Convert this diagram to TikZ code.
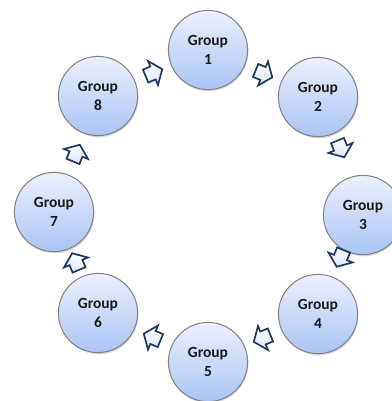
\documentclass[tikz,border=0pt]{standalone}
\usepackage{fontspec}
\setmainfont{Carlito}
\usetikzlibrary{shadows,calc}

\definecolor{grouptop}{RGB}{236,240,252}
\definecolor{groupbot}{RGB}{170,196,245}
\definecolor{grouprim}{RGB}{128,128,128}
\definecolor{flowrim}{RGB}{31,56,96}
\definecolor{flowfill}{RGB}{222,231,249}

\begin{document}
\begin{tikzpicture}[x = 0.025cm, y = -0.025cm,
      group/.style = {circle, draw = grouprim, line width = 0.7pt, top color = grouptop, bottom color = groupbot,
                      minimum size = 1.98cm, inner sep = 0pt, align = center, text = black!90,
                      font = \fontsize{11}{13.4}\selectfont\bfseries,
                      drop shadow = {opacity = 0.3, shadow xshift = 0.6pt, shadow yshift = -1.2pt}},
      flow/.pic = {\draw [draw = flowrim, line width = 1.2pt, line join = miter, top color = white, bottom color = flowfill]
                   (-8,-7) -- (0,-7) -- (0,-13) -- (10,0) -- (0,13) -- (0,7) -- (-8,7) -- cycle;}]
      \useasboundingbox (0,0) rectangle (392,401);

      \node [group] (g1) at (208, 50) {Group\\1};
      \node [group] (g2) at (318, 97) {Group\\2};
      \node [group] (g3) at (363, 215) {Group\\3};
      \node [group] (g4) at (318, 314) {Group\\4};
      \node [group] (g5) at (208, 362) {Group\\5};
      \node [group] (g6) at (98, 313) {Group\\6};
      \node [group] (g7) at (54, 212) {Group\\7};
      \node [group] (g8) at (98, 96) {Group\\8};

      % arrows between neighbours, clockwise
      \pic [rotate = -22.5] at ($(g1)!0.5!(g2)$) {flow};
      \pic [rotate = -67.5] at ($(g2)!0.5!(g3) + (0,-8)$) {flow};
      \pic [rotate = -112.5] at ($(g3)!0.5!(g4) + (0,-7)$) {flow};
      \pic [rotate = -157.5] at ($(g4)!0.5!(g5)$) {flow};
      \pic [rotate = 157.5] at ($(g5)!0.5!(g6)$) {flow};
      \pic [rotate = 112.5] at ($(g6)!0.5!(g7)$) {flow};
      \pic [rotate = 67.5] at ($(g7)!0.5!(g8)$) {flow};
      \pic [rotate = 22.5] at ($(g8)!0.5!(g1)$) {flow};
\end{tikzpicture}
\end{document}
